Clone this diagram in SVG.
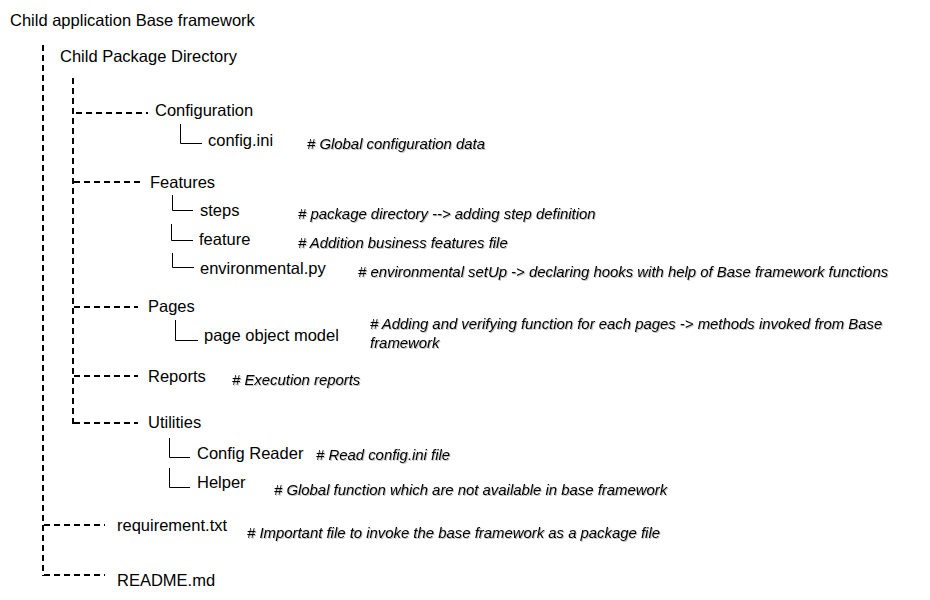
<svg xmlns="http://www.w3.org/2000/svg" width="930" height="600" viewBox="0 0 930 600">
<defs>
<filter id="sh" x="-5%" y="-30%" width="110%" height="160%">
<feDropShadow dx="1" dy="1" stdDeviation="0.6" flood-color="#000" flood-opacity="0.25"/>
</filter>
</defs>
<style>
.t{font-family:"Liberation Sans",Arial,sans-serif;font-size:16.5px;fill:#000}
.c{font-family:"Liberation Sans",Arial,sans-serif;font-size:14.9px;font-style:italic;fill:#000;filter:url(#sh)}
.d{stroke:#000;stroke-width:2;stroke-dasharray:6 4;fill:none}
.l{stroke:#000;stroke-width:1;fill:none}
</style>
<rect width="930" height="600" fill="#fff"/>
<g id="connectors">
<line class="d" x1="43" y1="45" x2="43" y2="576"/>
<line class="d" x1="73" y1="78" x2="73" y2="424"/>
<line class="d" x1="76" y1="113" x2="148" y2="113"/>
<line class="d" x1="74" y1="182" x2="143" y2="182"/>
<line class="d" x1="74" y1="307" x2="138" y2="307"/>
<line class="d" x1="74" y1="376" x2="138" y2="376"/>
<line class="d" x1="74" y1="423" x2="138" y2="423"/>
<line class="d" x1="44" y1="525" x2="105" y2="525"/>
<line class="d" x1="44" y1="575" x2="105" y2="575"/>
<path class="l" d="M180.5 124 V143.5 H202"/>
<path class="l" d="M172.5 195 V210.5 H193"/>
<path class="l" d="M171.5 224 V240.5 H193"/>
<path class="l" d="M172.5 253 V267.5 H194"/>
<path class="l" d="M175.5 320 V340.5 H198"/>
<path class="l" d="M169.5 438 V457.5 H190"/>
<path class="l" d="M169.5 468 V487.5 H190"/>
</g>
<g id="root"><text class="t" x="10" y="26">Child application Base framework</text></g>
<g id="child-package"><text class="t" x="60" y="62">Child Package Directory</text></g>
<g id="configuration"><text class="t" x="155" y="116">Configuration</text></g>
<g id="config-ini"><text class="t" x="208" y="146">config.ini</text><text class="c" x="307" y="149"># Global configuration data</text></g>
<g id="features"><text class="t" x="150" y="188">Features</text></g>
<g id="steps"><text class="t" x="200" y="216">steps</text><text class="c" x="298" y="219"># package directory --&gt; adding step definition</text></g>
<g id="feature"><text class="t" x="199" y="245">feature</text><text class="c" x="298" y="248"># Addition business features file</text></g>
<g id="environmental"><text class="t" x="200" y="274">environmental.py</text><text class="c" x="358" y="277"># environmental setUp -&gt; declaring hooks with help of Base framework functions</text></g>
<g id="pages"><text class="t" x="148" y="312">Pages</text></g>
<g id="pom"><text class="t" x="204" y="341">page object model</text><text class="c" x="370" y="329"># Adding and verifying function for each pages -&gt; methods invoked from Base</text><text class="c" x="370" y="348">framework</text></g>
<g id="reports"><text class="t" x="148" y="382">Reports</text><text class="c" x="232" y="385"># Execution reports</text></g>
<g id="utilities"><text class="t" x="148" y="428">Utilities</text></g>
<g id="config-reader"><text class="t" x="197" y="459">Config Reader</text><text class="c" x="316" y="460"># Read config.ini file</text></g>
<g id="helper"><text class="t" x="197" y="488">Helper</text><text class="c" x="274" y="495"># Global function which are not available in base framework</text></g>
<g id="requirement"><text class="t" x="117" y="531">requirement.txt</text><text class="c" x="247" y="538"># Important file to invoke the base framework as a package file</text></g>
<g id="readme"><text class="t" x="117" y="586">README.md</text></g>
</svg>
